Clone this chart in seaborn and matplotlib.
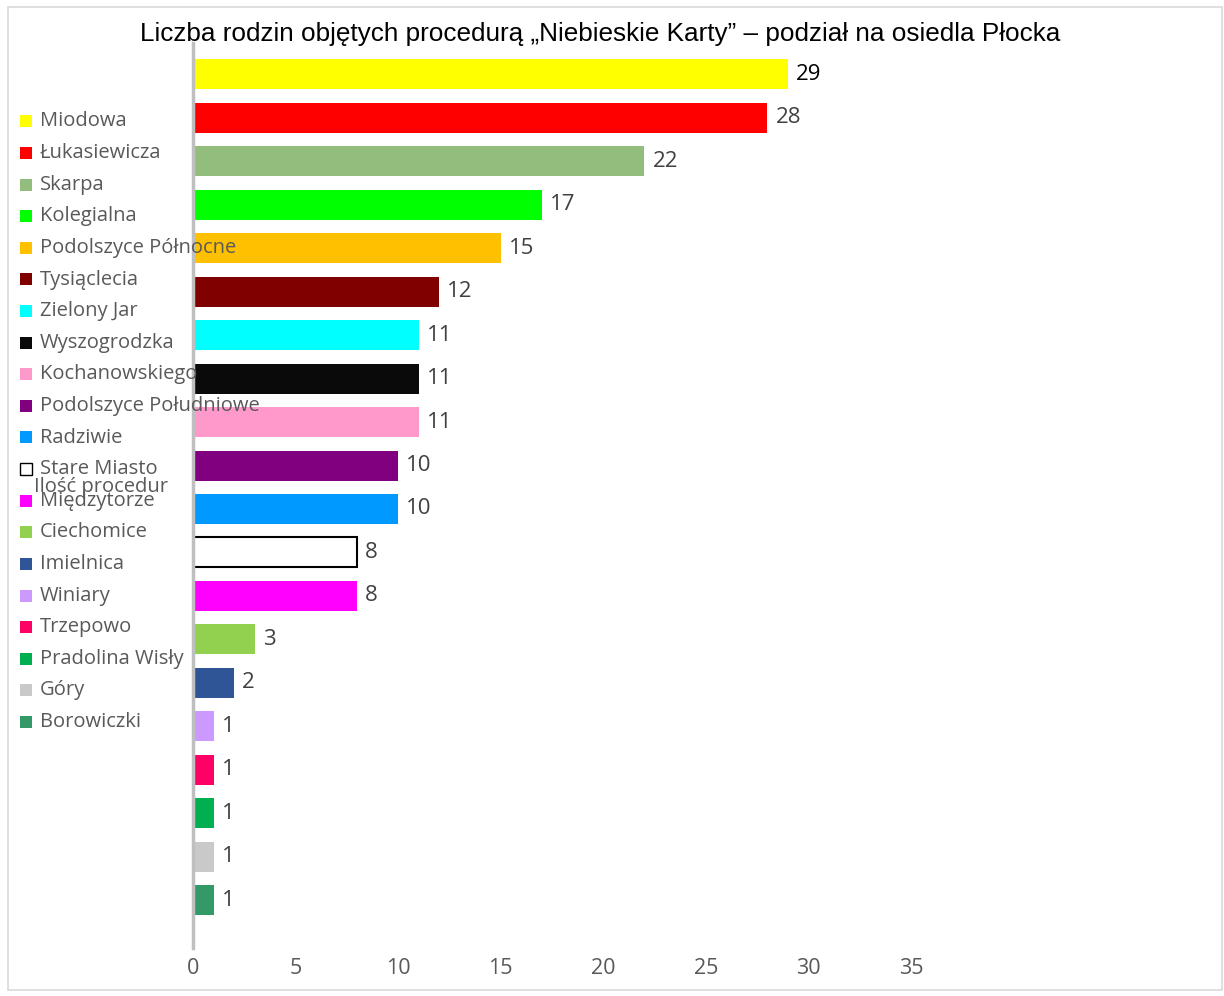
import matplotlib
matplotlib.use("Agg")
import matplotlib.pyplot as plt
import seaborn as sns
import pandas as pd
from matplotlib.patches import Rectangle

categories = ["Miodowa", "Łukasiewicza", "Skarpa", "Kolegialna", "Podolszyce Północne",
              "Tysiąclecia", "Zielony Jar", "Wyszogrodzka", "Kochanowskiego",
              "Podolszyce Południowe", "Radziwie", "Stare Miasto", "Międzytorze",
              "Ciechomice", "Imielnica", "Winiary", "Trzepowo", "Pradolina Wisły",
              "Góry", "Borowiczki"]
values = [29, 28, 22, 17, 15, 12, 11, 11, 11, 10, 10, 8, 8, 3, 2, 1, 1, 1, 1, 1]
colors = ["#FFFF00", "#FF0000", "#93BD7C", "#00FF00", "#FFC000", "#800000", "#00FFFF",
          "#0A0A0A", "#FF99CC", "#800080", "#0099FF", "#FFFFFF", "#FF00FF", "#92D050",
          "#2F5597", "#CC99FF", "#FF0066", "#00B050", "#C9C9C9", "#339966"]
xticks = [0, 5, 10, 15, 20, 25, 30, 35]
title = "Liczba rodzin objętych procedurą „Niebieskie Karty” – podział na osiedla Płocka"
axis_title = "Ilość procedur"

df = pd.DataFrame({"osiedle": categories, "liczba": values})

sns.set_theme(style="white")
plt.rcParams["font.family"] = ["Open Sans", "DejaVu Sans"]

W, H = 1224, 996
fig = plt.figure(figsize=(W / 100, H / 100), dpi=100)
ax = fig.add_axes([193 / W, 1 - 948 / H, (911 - 193) / W, (948 - 43) / H])

sns.barplot(data=df, y="osiedle", x="liczba", hue="osiedle", palette=colors,
            order=categories, hue_order=categories, dodge=False, legend=False,
            width=0.69, orient="h", ax=ax, saturation=1)

for i, p in enumerate(ax.patches):
    if categories[i] == "Stare Miasto":
        p.set_edgecolor("black")
        p.set_linewidth(1.5)
    else:
        p.set_linewidth(0)

for i, v in enumerate(values):
    ax.text(v + 0.4, i, str(v), va="center", ha="left", fontsize=16,
            color="#000000" if i == 0 else "#404040")

ax.set_xlim(0, 35)
ax.set_ylim(19 + 1.1, -0.72)
ax.set_xticks(xticks)
ax.set_xticklabels([str(t) for t in xticks], fontsize=15.5, color="#595959")
ax.tick_params(axis="x", length=0, pad=7)
ax.set_yticks([])
ax.set_xlabel("")
ax.set_ylabel("")
for s in ["top", "right", "bottom"]:
    ax.spines[s].set_visible(False)
ax.spines["left"].set_color("#BFBFBF")
ax.spines["left"].set_linewidth(2.5)
ax.patch.set_alpha(0)

# legend (manual, left)
y0, dy = 121.5, 31.6
for i, (c, col) in enumerate(zip(categories, colors)):
    yc = y0 + i * dy
    fig.patches.append(Rectangle((20 / W, 1 - (yc + 6) / H), 12 / W, 12 / H,
                                 transform=fig.transFigure, facecolor=col,
                                 edgecolor="black" if c == "Stare Miasto" else "none",
                                 linewidth=1.0, zorder=5))
    fig.text(40 / W, 1 - yc / H, c, ha="left", va="center", fontsize=14.5,
             color="#595959", zorder=6)

fig.text(101 / W, 1 - 487 / H, axis_title, ha="center", va="center",
         fontsize=14.5, color="#595959", zorder=6)

fig.text(600 / W, 1 - 34 / H, title, ha="center", va="center", fontsize=18.8,
         family=["Liberation Sans", "DejaVu Sans"], color="#000000")

# outer frame
fig.patches.append(Rectangle((8 / W, 1 - 990 / H), (1222 - 8) / W, (990 - 7) / H,
                             transform=fig.transFigure, facecolor="none",
                             edgecolor="#D9D9D9", linewidth=1.2, zorder=0))

fig.savefig("out.png", dpi=100, facecolor="white")
